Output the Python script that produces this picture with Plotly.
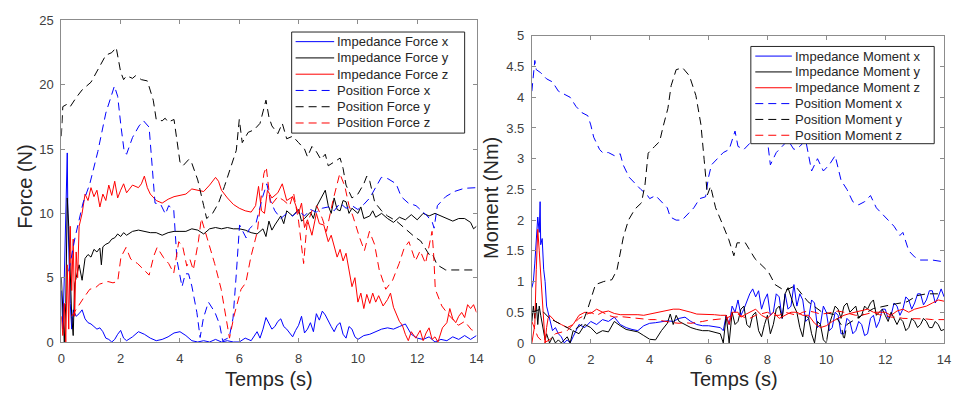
import plotly.graph_objects as go

# ---------------- Data: Force (N) vs Temps (s) ----------------
IMP_FORCE_X = [(0,4),(0.05,1),(0.1,5),(0.15,9),(0.2,14.7),(0.22,10),(0.25,7),(0.3,3),(0.35,1),(0.4,2.5),(0.5,2),(0.6,2.2),(0.7,2.5),(0.8,1.8),(0.9,1.5),(1.0,1.4),(1.1,1.2),(1.2,1.0),(1.3,1.1),(1.4,0.8),(1.5,0.3),(1.6,0.2),(1.7,0.0),(1.8,0.2),(1.9,0.6),(2.0,0.9),(2.1,0.3),(2.2,0.1),(2.4,0.4),(2.6,0.8),(2.8,0.6),(3.0,0.3),(3.2,0.1),(3.4,0.2),(3.6,0.4),(3.8,0.7),(4.0,0.8),(4.2,0.5),(4.4,0.1),(4.6,0.0),(4.8,0.1),(5.0,0.0),(5.2,0.2),(5.4,0.0),(5.6,0.1),(5.8,0.0),(6.0,0.0),(6.2,0.3),(6.4,0.1),(6.6,0.8),(6.7,0.3),(6.8,1.0),(6.9,1.9),(7.0,1.5),(7.1,1.0),(7.2,1.2),(7.3,1.6),(7.4,1.8),(7.5,1.2),(7.6,1.0),(7.7,0.7),(7.8,0.4),(7.9,0.9),(8.0,1.3),(8.1,2.0),(8.2,0.7),(8.3,1.0),(8.4,1.5),(8.5,0.8),(8.6,2.2),(8.7,1.7),(8.8,2.4),(8.9,2.1),(9.0,1.6),(9.1,1.2),(9.2,0.8),(9.3,1.3),(9.4,1.5),(9.5,0.6),(9.6,0.3),(9.7,1.2),(9.8,1.0),(9.9,0.4),(10.0,0.2),(10.2,0.5),(10.4,0.6),(10.6,0.8),(10.8,1.0),(11.0,1.1),(11.2,1.0),(11.4,1.2),(11.6,1.4),(11.8,0.6),(12.0,0.3),(12.2,0.2),(12.4,0.4),(12.6,0.0),(12.8,0.2),(13.0,0.1),(13.2,0.4),(13.4,0.2),(13.6,0.5),(13.8,0.2),(14.0,0.5)]

IMP_FORCE_Y = [(0,5),(0.05,2),(0.1,0),(0.15,3),(0.2,11.2),(0.25,9),(0.3,5),(0.35,2),(0.4,0.5),(0.45,4.5),(0.5,5),(0.6,6),(0.7,4.8),(0.8,6.5),(0.9,6.8),(1.0,6.6),(1.1,7.2),(1.2,7),(1.3,7.3),(1.35,6.0),(1.4,7.4),(1.5,7.6),(1.6,7.7),(1.7,8),(1.8,8.1),(1.9,8.4),(2.0,8.2),(2.1,8.5),(2.2,8.3),(2.4,8.6),(2.6,8.7),(2.8,8.6),(3.0,8.5),(3.2,8.5),(3.4,8.3),(3.6,8.5),(3.8,8.6),(4.0,8.6),(4.2,8.6),(4.4,8.8),(4.6,8.7),(4.8,8.4),(5.0,8.8),(5.2,8.9),(5.4,8.8),(5.6,8.9),(5.8,8.8),(6.0,8.8),(6.2,8.7),(6.4,8.5),(6.6,8.4),(6.8,8.8),(6.9,8.2),(7.0,9.4),(7.1,8.7),(7.2,9.1),(7.4,9.8),(7.5,9.2),(7.6,10.2),(7.8,9.8),(8.0,10.3),(8.1,9.4),(8.2,9.6),(8.4,10.1),(8.5,9.6),(8.6,10.5),(8.8,11.3),(8.9,11.8),(9.0,10.6),(9.1,10.0),(9.2,11.2),(9.3,10.3),(9.4,10.2),(9.5,11.0),(9.6,10.9),(9.7,10.0),(9.8,10.4),(10.0,10.0),(10.1,10.5),(10.2,9.6),(10.4,9.8),(10.5,10.2),(10.6,9.7),(10.8,10.0),(11.0,9.6),(11.2,9.3),(11.4,9.7),(11.6,9.5),(11.8,9.9),(12.0,9.5),(12.2,10.0),(12.4,9.8),(12.6,10.0),(12.8,9.8),(13.0,9.6),(13.2,9.4),(13.4,9.6),(13.6,9.6),(13.8,9.3),(13.9,8.8),(14.0,9.0)]

IMP_FORCE_Z = [(0,2),(0.05,0.5),(0.1,3),(0.15,0),(0.2,6),(0.25,1),(0.3,9),(0.35,4),(0.4,8),(0.45,2),(0.5,7),(0.55,5),(0.6,9),(0.7,10),(0.8,11.5),(0.9,11),(1.0,12),(1.1,11.3),(1.2,11.8),(1.3,10.5),(1.4,11.5),(1.5,11),(1.6,12.2),(1.7,11.4),(1.8,12.5),(1.9,11.2),(2.0,11.8),(2.1,12.3),(2.2,11.6),(2.4,12.2),(2.6,12.0),(2.7,12.3),(2.8,12.9),(2.9,12.0),(3.0,11.5),(3.2,11.0),(3.4,10.8),(3.6,11.1),(3.8,11.3),(4.0,11.4),(4.2,11.5),(4.4,11.9),(4.6,11.8),(4.8,11.7),(5.0,12.2),(5.2,12.8),(5.3,12.5),(5.4,11.8),(5.6,11.2),(5.8,10.7),(6.0,10.4),(6.2,10.2),(6.4,10.1),(6.55,10.6),(6.65,12.1),(6.75,10.2),(6.85,10.0),(6.95,11.8),(7.1,11.2),(7.3,11.6),(7.45,12.3),(7.6,11.0),(7.8,11.3),(8.0,10.0),(8.1,10.8),(8.2,8.9),(8.3,9.5),(8.45,8.3),(8.6,10.0),(8.7,9.2),(8.85,9.1),(9.0,7.8),(9.1,8.3),(9.3,6.6),(9.4,7.2),(9.5,6.3),(9.6,6.9),(9.7,5.6),(9.8,4.3),(9.9,5.0),(10.0,3.1),(10.1,3.8),(10.2,2.6),(10.3,3.7),(10.4,3.0),(10.5,3.8),(10.6,3.1),(10.7,3.6),(10.85,2.8),(11.0,3.3),(11.1,3.8),(11.2,2.7),(11.3,2.1),(11.4,1.6),(11.5,1.3),(11.6,0.6),(11.7,0.1),(11.8,0.8),(11.95,0.3),(12.1,0.9),(12.2,0.1),(12.3,0.7),(12.4,1.1),(12.5,0.2),(12.6,0.4),(12.7,0.0),(12.85,1.1),(13.0,1.5),(13.1,2.6),(13.2,1.8),(13.3,1.5),(13.4,2.0),(13.5,2.3),(13.6,1.9),(13.7,2.9),(13.8,2.6),(13.9,2.9),(14.0,2.3)]

POS_FORCE_X = [(0.25,5.5),(0.46,8.1),(0.73,10.8),(0.96,12.3),(1.23,14.8),(1.5,17.8),(1.79,19.9),(1.9,19.1),(2.01,16.8),(2.12,14.8),(2.2,14.6),(2.4,15.9),(2.62,16.8),(2.77,17.2),(2.96,16.7),(3.07,13.6),(3.16,10.8),(3.35,10.7),(3.51,9.95),(3.62,10.6),(3.79,10.3),(3.9,6.35),(4.07,4.3),(4.18,5.3),(4.29,5.3),(4.4,4.35),(4.57,2.3),(4.68,0.35),(4.79,1.85),(4.96,3.1),(5.18,2.3),(5.34,1.35),(5.44,0.1),(5.66,0.35),(5.79,1.85),(5.9,5.3),(6.01,9.1),(6.23,8.1),(6.34,8.8),(6.57,9.3),(6.79,11.3),(6.93,12.3),(7.05,11.0),(7.2,10.2),(7.4,9.6),(7.6,10.0),(7.8,9.8),(8.0,10.2),(8.2,9.8),(8.4,10.3),(8.6,10.1),(8.8,10.4),(9.0,10.5),(9.2,10.2),(9.4,10.8),(9.6,10.4),(9.8,10.6),(10.0,10.3),(10.2,10.7),(10.4,11.2),(10.6,12.0),(10.79,12.8),(11.01,12.7),(11.29,12.3),(11.46,11.3),(11.7,10.8),(11.96,10.6),(12.1,10.3),(12.34,9.8),(12.51,9.3),(12.57,8.85),(12.68,10.6),(12.96,11.3),(13.25,11.7),(13.59,11.95),(14.0,12.0)]

POS_FORCE_Y = [(0,16),(0.05,18.3),(0.2,18.5),(0.3,18.3),(0.5,19),(0.7,19.6),(1.0,20.2),(1.2,21),(1.5,22.3),(1.7,22.5),(1.85,22.9),(2.0,21),(2.1,20.4),(2.2,20.7),(2.4,20.5),(2.5,20.7),(2.7,20.4),(2.9,20.3),(3.1,18.8),(3.2,17.3),(3.4,17.2),(3.5,17.4),(3.6,17.1),(3.8,17.3),(3.9,15.5),(4.0,14.0),(4.1,13.7),(4.3,14.2),(4.4,13.9),(4.6,12.6),(4.8,10.6),(4.9,9.6),(5.1,10.0),(5.3,10.8),(5.5,12.1),(5.7,13.5),(5.9,14.9),(6.0,17.3),(6.1,15.5),(6.3,16.3),(6.5,16.5),(6.7,17.0),(6.9,18.8),(7.0,17.5),(7.1,16.8),(7.3,16.2),(7.45,17.0),(7.6,15.8),(7.8,16.0),(8.0,15.5),(8.2,15.0),(8.3,14.4),(8.45,15.2),(8.6,14.8),(8.75,14.2),(8.9,14.6),(9.0,13.7),(9.2,14.0),(9.4,14.3),(9.5,13.5),(9.6,12.2),(9.8,11.2),(10.0,11.5),(10.2,12.3),(10.3,12.9),(10.4,12.5),(10.57,10.85),(10.8,10.2),(11.0,9.8),(11.3,9.4),(11.5,9.0),(11.73,8.6),(11.9,8.2),(12.12,7.85),(12.3,7.2),(12.4,6.8),(12.5,6.9),(12.67,6.0),(12.96,5.6),(13.3,5.6),(13.7,5.6),(14.0,5.6)]

POS_FORCE_Z = [(0.35,2.0),(0.51,2.6),(0.73,3.35),(0.96,4.1),(1.14,4.2),(1.29,4.5),(1.57,4.7),(1.74,4.6),(1.9,4.7),(2.01,6.6),(2.18,7.35),(2.34,6.45),(2.57,6.1),(2.79,5.6),(2.96,5.2),(3.12,6.7),(3.23,7.35),(3.45,6.55),(3.62,6.1),(3.79,5.35),(3.96,7.8),(4.1,7.35),(4.23,5.9),(4.34,6.4),(4.45,5.6),(4.62,7.8),(4.72,9.6),(4.85,8.6),(5.0,7.5),(5.17,6.1),(5.39,4.1),(5.56,1.6),(5.67,0.3),(5.83,2.1),(6.06,4.1),(6.22,4.6),(6.39,6.6),(6.61,8.6),(6.83,13.1),(6.91,13.6),(7.06,10.6),(7.3,11.3),(7.5,11.0),(7.7,10.6),(7.83,11.6),(8.0,9.4),(8.11,7.3),(8.17,6.1),(8.28,9.1),(8.45,10.2),(8.61,10.6),(8.8,9.6),(8.94,8.6),(9.17,11.1),(9.39,13.1),(9.56,12.1),(9.7,10.6),(9.83,9.8),(10.06,8.1),(10.22,7.1),(10.39,8.6),(10.56,7.6),(10.72,5.6),(10.94,4.1),(11.17,4.8),(11.39,6.1),(11.56,7.3),(11.72,7.8),(11.94,6.3),(12.1,7.1),(12.28,6.1),(12.44,8.1),(12.5,8.6),(12.56,6.6),(12.61,4.1),(12.83,2.8),(13.06,2.1),(13.39,1.3),(13.6,1.6),(13.83,0.95),(14.0,0.8)]

# ---------------- Data: Moment (Nm) vs Temps (s) ----------------
IMP_MOMENT_X = [(0,0.9),(0.05,1.0),(0.1,1.3),(0.15,1.6),(0.2,2.05),(0.25,1.8),(0.28,2.3),(0.3,1.6),(0.35,1.7),(0.4,1.2),(0.45,1.0),(0.5,0.6),(0.55,0.5),(0.6,0.35),(0.7,0.2),(0.8,0.25),(0.9,0.15),(1.0,0.1),(1.1,0.0),(1.2,0.05),(1.3,0.0),(1.4,0.1),(1.5,0.2),(1.6,0.3),(1.8,0.25),(2.0,0.35),(2.2,0.3),(2.4,0.38),(2.6,0.35),(2.8,0.42),(3.0,0.3),(3.2,0.25),(3.4,0.22),(3.6,0.2),(3.8,0.28),(4.0,0.32),(4.2,0.33),(4.4,0.35),(4.6,0.36),(4.8,0.35),(5.0,0.4),(5.2,0.42),(5.4,0.35),(5.6,0.3),(5.8,0.28),(6.0,0.28),(6.2,0.27),(6.4,0.25),(6.5,0.2),(6.6,0.45),(6.7,0.3),(6.8,0.6),(6.9,0.5),(7.0,0.7),(7.1,0.45),(7.2,0.55),(7.4,0.8),(7.5,0.88),(7.6,0.75),(7.7,0.85),(7.8,0.55),(7.9,0.7),(8.0,0.8),(8.1,0.45),(8.2,0.5),(8.3,0.8),(8.4,0.75),(8.5,0.4),(8.6,0.8),(8.7,0.55),(8.8,0.6),(8.9,0.95),(9.0,0.6),(9.1,0.8),(9.2,0.7),(9.3,0.35),(9.4,0.4),(9.5,0.7),(9.6,0.65),(9.7,0.25),(9.8,0.3),(9.9,0.6),(10.0,0.5),(10.1,0.2),(10.2,0.25),(10.3,0.5),(10.4,0.45),(10.5,0.15),(10.6,0.15),(10.7,0.4),(10.8,0.35),(10.9,0.15),(11.0,0.2),(11.1,0.35),(11.2,0.3),(11.3,0.12),(11.4,0.15),(11.5,0.4),(11.6,0.45),(11.7,0.25),(11.8,0.35),(11.9,0.55),(12.0,0.55),(12.1,0.4),(12.2,0.45),(12.3,0.65),(12.4,0.6),(12.5,0.45),(12.6,0.55),(12.7,0.75),(12.8,0.7),(12.9,0.55),(13.0,0.65),(13.1,0.8),(13.2,0.8),(13.3,0.62),(13.4,0.7),(13.5,0.85),(13.6,0.85),(13.7,0.65),(13.8,0.75),(13.9,0.88),(14.0,0.75)]

IMP_MOMENT_Y = [(0,0.35),(0.05,0.6),(0.1,0.4),(0.15,0.65),(0.2,0.3),(0.25,0.6),(0.3,0.45),(0.35,0.3),(0.4,0.2),(0.45,0.05),(0.5,0.15),(0.6,0.0),(0.7,0.1),(0.8,0.0),(0.9,0.05),(1.0,0.0),(1.2,0.1),(1.3,0.0),(1.4,0.2),(1.6,0.15),(1.8,0.3),(2.0,0.25),(2.2,0.15),(2.4,0.2),(2.6,0.18),(2.8,0.35),(3.0,0.28),(3.2,0.22),(3.4,0.2),(3.6,0.18),(3.8,0.12),(4.0,0.06),(4.2,0.05),(4.4,0.2),(4.6,0.32),(4.7,0.47),(4.8,0.3),(4.9,0.45),(5.0,0.35),(5.2,0.3),(5.4,0.25),(5.6,0.22),(5.8,0.2),(6.0,0.2),(6.2,0.18),(6.4,0.15),(6.5,0.0),(6.6,0.45),(6.7,0.0),(6.8,0.5),(6.9,0.3),(7.0,0.35),(7.1,0.55),(7.2,0.6),(7.3,0.3),(7.4,0.25),(7.5,0.45),(7.6,0.5),(7.7,0.2),(7.8,0.1),(7.9,0.3),(8.0,0.45),(8.1,0.15),(8.2,0.3),(8.3,0.55),(8.4,0.6),(8.5,0.4),(8.6,0.8),(8.7,0.9),(8.8,0.75),(8.9,0.6),(9.0,0.5),(9.1,0.25),(9.2,0.1),(9.3,0.45),(9.4,0.4),(9.5,0.15),(9.6,0.0),(9.7,0.35),(9.8,0.3),(9.9,0.05),(10.0,0.0),(10.1,0.3),(10.2,0.45),(10.3,0.6),(10.4,0.55),(10.5,0.4),(10.6,0.6),(10.7,0.65),(10.8,0.5),(10.9,0.55),(11.0,0.6),(11.1,0.4),(11.2,0.45),(11.3,0.6),(11.4,0.55),(11.5,0.65),(11.6,0.7),(11.7,0.45),(11.8,0.5),(11.9,0.55),(12.0,0.45),(12.1,0.35),(12.2,0.5),(12.3,0.4),(12.4,0.3),(12.5,0.4),(12.6,0.35),(12.7,0.2),(12.8,0.25),(12.9,0.4),(13.0,0.35),(13.1,0.25),(13.2,0.3),(13.3,0.4),(13.4,0.35),(13.5,0.25),(13.6,0.25),(13.7,0.35),(13.8,0.3),(13.9,0.2),(14.0,0.22)]

IMP_MOMENT_Z = [(0,0.0),(0.1,0.3),(0.15,1.2),(0.2,1.85),(0.25,1.5),(0.3,1.1),(0.35,0.6),(0.4,0.2),(0.45,0.0),(0.5,0.25),(0.55,0.4),(0.6,0.45),(0.7,0.4),(0.8,0.35),(1.0,0.3),(1.2,0.25),(1.4,0.3),(1.6,0.45),(1.8,0.5),(2.0,0.48),(2.2,0.55),(2.4,0.5),(2.6,0.52),(2.8,0.48),(3.0,0.46),(3.2,0.46),(3.4,0.47),(3.6,0.46),(3.8,0.45),(4.0,0.47),(4.2,0.49),(4.4,0.52),(4.6,0.53),(4.8,0.55),(5.0,0.55),(5.2,0.53),(5.4,0.5),(5.6,0.47),(5.8,0.47),(6.0,0.46),(6.2,0.46),(6.4,0.45),(6.6,0.45),(6.7,0.3),(6.8,0.5),(7.0,0.5),(7.1,0.42),(7.2,0.45),(7.4,0.5),(7.6,0.55),(7.8,0.45),(8.0,0.4),(8.2,0.5),(8.4,0.4),(8.6,0.45),(8.8,0.5),(9.0,0.5),(9.2,0.45),(9.4,0.45),(9.6,0.32),(9.8,0.25),(10.0,0.28),(10.2,0.35),(10.4,0.4),(10.6,0.45),(10.8,0.48),(11.0,0.5),(11.2,0.52),(11.4,0.55),(11.6,0.5),(11.8,0.5),(12.0,0.5),(12.2,0.45),(12.4,0.52),(12.6,0.55),(12.8,0.5),(13.0,0.55),(13.2,0.58),(13.4,0.6),(13.6,0.65),(13.8,0.7),(14.0,0.68)]

POS_MOMENT_X = [(0,4.1),(0.05,4.4),(0.1,4.6),(0.15,4.45),(0.3,4.4),(0.5,4.3),(0.7,4.25),(0.9,4.1),(1.1,4.05),(1.3,4.0),(1.5,3.85),(1.7,3.75),(1.9,3.7),(2.0,3.55),(2.1,3.35),(2.3,3.15),(2.4,3.1),(2.6,3.1),(2.8,3.05),(3.0,3.08),(3.1,2.9),(3.3,2.7),(3.5,2.6),(3.7,2.5),(3.9,2.42),(4.0,2.35),(4.2,2.4),(4.4,2.3),(4.6,2.2),(4.7,2.05),(4.9,2.0),(5.1,2.0),(5.3,2.1),(5.5,2.2),(5.7,2.35),(5.9,2.38),(6.0,2.7),(6.1,2.9),(6.3,3.0),(6.5,3.1),(6.7,3.15),(6.9,3.45),(7.0,3.2),(7.2,3.15),(7.4,3.25),(7.6,3.35),(7.8,3.25),(8.0,3.3),(8.1,2.9),(8.3,3.1),(8.5,3.2),(8.7,3.3),(8.9,3.15),(9.1,3.2),(9.3,3.3),(9.5,2.8),(9.7,3.0),(9.9,2.8),(10.1,2.9),(10.3,3.05),(10.5,2.65),(10.7,2.5),(10.9,2.3),(11.1,2.25),(11.3,2.3),(11.5,2.4),(11.7,2.2),(11.9,2.1),(12.1,2.0),(12.3,1.9),(12.5,1.75),(12.6,1.8),(12.8,1.5),(13.0,1.4),(13.2,1.35),(13.6,1.35),(14.0,1.32)]

POS_MOMENT_Y = [(0,0.5),(0.3,0.55),(0.6,0.4),(1.0,0.3),(1.4,0.2),(1.7,0.3),(1.88,0.53),(2.16,0.95),(2.44,1.0),(2.72,1.03),(2.89,1.19),(3.11,1.73),(3.28,2.0),(3.5,2.18),(3.72,2.28),(3.84,2.57),(3.95,3.09),(4.17,3.2),(4.34,3.28),(4.45,3.51),(4.62,3.82),(4.73,4.19),(4.9,4.45),(5.12,4.48),(5.35,4.35),(5.57,4.03),(5.74,3.56),(5.85,2.99),(5.96,2.41),(6.07,2.55),(6.24,2.2),(6.47,1.94),(6.69,1.68),(6.86,1.42),(6.97,1.63),(7.25,1.63),(7.58,1.37),(8.03,1.16),(8.26,0.95),(8.59,0.85),(8.8,0.9),(8.94,0.93),(9.38,0.67),(9.83,0.51),(10.28,0.46),(10.5,0.3),(10.6,0.04),(10.7,0.3),(11.06,0.41),(11.6,0.56),(12.18,0.62),(12.74,0.67),(13.08,0.77),(13.4,0.8),(13.86,0.8)]

POS_MOMENT_Z = [(0,0.35),(0.2,0.1),(0.4,0.0),(0.6,0.05),(0.8,0.15),(1.0,0.18),(1.2,0.2),(1.4,0.3),(1.6,0.4),(1.8,0.45),(2.0,0.5),(2.2,0.45),(2.4,0.5),(2.6,0.45),(2.8,0.42),(3.0,0.43),(3.2,0.42),(3.4,0.4),(3.6,0.4),(3.8,0.38),(4.0,0.38),(4.2,0.38),(4.4,0.36),(4.6,0.34),(4.8,0.33),(5.0,0.32),(5.2,0.33),(5.4,0.32),(5.6,0.33),(5.8,0.35),(6.0,0.37),(6.2,0.38),(6.4,0.4),(6.6,0.4),(6.8,0.45),(7.0,0.47),(7.2,0.42),(7.4,0.4),(7.6,0.45),(7.8,0.48),(8.0,0.5),(8.2,0.45),(8.4,0.45),(8.6,0.5),(8.8,0.47),(9.0,0.45),(9.2,0.5),(9.4,0.52),(9.6,0.5),(9.8,0.47),(10.0,0.48),(10.2,0.5),(10.4,0.52),(10.6,0.5),(10.8,0.48),(11.0,0.45),(11.2,0.45),(11.4,0.48),(11.6,0.5),(11.8,0.46),(12.0,0.45),(12.2,0.42),(12.4,0.42),(12.6,0.4),(12.8,0.4),(13.0,0.4),(13.2,0.4),(13.4,0.39),(13.6,0.38),(13.8,0.38),(14.0,0.38)]

X_TICKS = [0, 2, 4, 6, 8, 10, 12, 14]
FORCE_TICKS = [0, 5, 10, 15, 20, 25]
MOMENT_TICKS = [0, 0.5, 1, 1.5, 2, 2.5, 3, 3.5, 4, 4.5, 5]
MOMENT_TICK_TEXT = ["0", "0.5", "1", "1.5", "2", "2.5", "3", "3.5", "4", "4.5", "5"]

FORCE_NAMES = ["Impedance Force x", "Impedance Force y", "Impedance Force z",
               "Position Force x", "Position Force y", "Position Force z"]
MOMENT_NAMES = ["Impedance Moment x", "Impedance Moment y", "Impedance Moment z",
                "Position Moment x", "Position Moment y", "Position Moment z"]

BLUE, BLACK, RED = "#0000ff", "#000000", "#ff0000"
DASH = "8px,5px"
COLORS = [BLUE, BLACK, RED, BLUE, BLACK, RED]
DASHES = ["solid", "solid", "solid", DASH, DASH, DASH]

W, H = 959, 401
FONT = "Liberation Sans, Arial, sans-serif"

fig = go.Figure()

force_series = [IMP_FORCE_X, IMP_FORCE_Y, IMP_FORCE_Z, POS_FORCE_X, POS_FORCE_Y, POS_FORCE_Z]
moment_series = [IMP_MOMENT_X, IMP_MOMENT_Y, IMP_MOMENT_Z, POS_MOMENT_X, POS_MOMENT_Y, POS_MOMENT_Z]

for s, name, c, d in zip(force_series, FORCE_NAMES, COLORS, DASHES):
    fig.add_trace(go.Scatter(x=[p[0] for p in s], y=[p[1] for p in s], name=name, mode="lines",
                             line=dict(color=c, width=1, dash=d), xaxis="x", yaxis="y"))
for s, name, c, d in zip(moment_series, MOMENT_NAMES, COLORS, DASHES):
    fig.add_trace(go.Scatter(x=[p[0] for p in s], y=[p[1] for p in s], name=name, mode="lines",
                             line=dict(color=c, width=1, dash=d), xaxis="x2", yaxis="y2"))

AXC = "#8c8c8c"
TICKF = dict(family=FONT, size=13, color="#404040")
common = dict(showgrid=False, zeroline=False, showline=True, linecolor=AXC, linewidth=1,
              mirror="ticks", ticks="inside", ticklen=4, tickcolor=AXC, tickfont=TICKF,
              ticklabelstandoff=4)

fig.update_layout(
    width=W, height=H,
    margin=dict(l=0, r=0, t=0, b=0),
    paper_bgcolor="white", plot_bgcolor="white",
    font=dict(family=FONT, color="#262626"),
    showlegend=False,
    xaxis=dict(domain=[58/W, 478/W], range=[0, 14], tickvals=X_TICKS, anchor="y", **common),
    yaxis=dict(domain=[1-348/H, 1-14/H], range=[0, 25], tickvals=FORCE_TICKS, anchor="x", **common),
    xaxis2=dict(domain=[534/W, 951/W], range=[0, 14], tickvals=X_TICKS, anchor="y2", **common),
    yaxis2=dict(domain=[1-349/H, 1-30/H], range=[0, 5], tickvals=MOMENT_TICKS,
                ticktext=MOMENT_TICK_TEXT, anchor="x2", **common),
)

# ---- legends drawn as boxed keys (pixel layout converted to paper coords) ----
def legend_box(names, left, right, top, bottom, row0, pitch, lx0, lx1, tx):
    fig.add_shape(type="rect", xref="paper", yref="paper",
                  x0=left/W, x1=right/W, y0=1-bottom/H, y1=1-top/H,
                  line=dict(color="#262626", width=1), fillcolor="white", layer="above")
    for i, (name, c, d) in enumerate(zip(names, COLORS, DASHES)):
        yy = row0 + i*pitch
        fig.add_shape(type="line", xref="paper", yref="paper",
                      x0=lx0/W, x1=lx1/W, y0=1-yy/H, y1=1-yy/H,
                      line=dict(color=c, width=1, dash=d), layer="above")
        fig.add_annotation(text=name, x=tx/W, y=1-yy/H, xref="paper", yref="paper",
                           showarrow=False, xanchor="left", yanchor="middle",
                           font=dict(family=FONT, size=13, color="#262626"))

legend_box(FORCE_NAMES, 291, 466, 26, 131, 36, 16.9, 295, 334, 335)
legend_box(MOMENT_NAMES, 755.5, 941, 41, 142, 51, 16.45, 760, 797, 798.5)

TITLEF = dict(family=FONT, size=20, color="#262626")
fig.add_annotation(text="Force (N)", x=21/W, y=1-187/H, xref="paper", yref="paper",
                   textangle=-90, showarrow=False, font=TITLEF, xanchor="center", yanchor="middle")
fig.add_annotation(text="Temps (s)", x=268/W, y=1-386/H, xref="paper", yref="paper",
                   showarrow=False, font=TITLEF, xanchor="center", yanchor="middle")
fig.add_annotation(text="Moment (Nm)", x=492/W, y=1-198/H, xref="paper", yref="paper",
                   textangle=-90, showarrow=False, font=TITLEF, xanchor="center", yanchor="middle")
fig.add_annotation(text="Temps (s)", x=738/W, y=1-386/H, xref="paper", yref="paper",
                   showarrow=False, font=TITLEF, xanchor="center", yanchor="middle")

fig.write_html("out.html", config={"displayModeBar": False},
               post_script="document.body.style.margin='0px';document.body.style.overflow='hidden';")
